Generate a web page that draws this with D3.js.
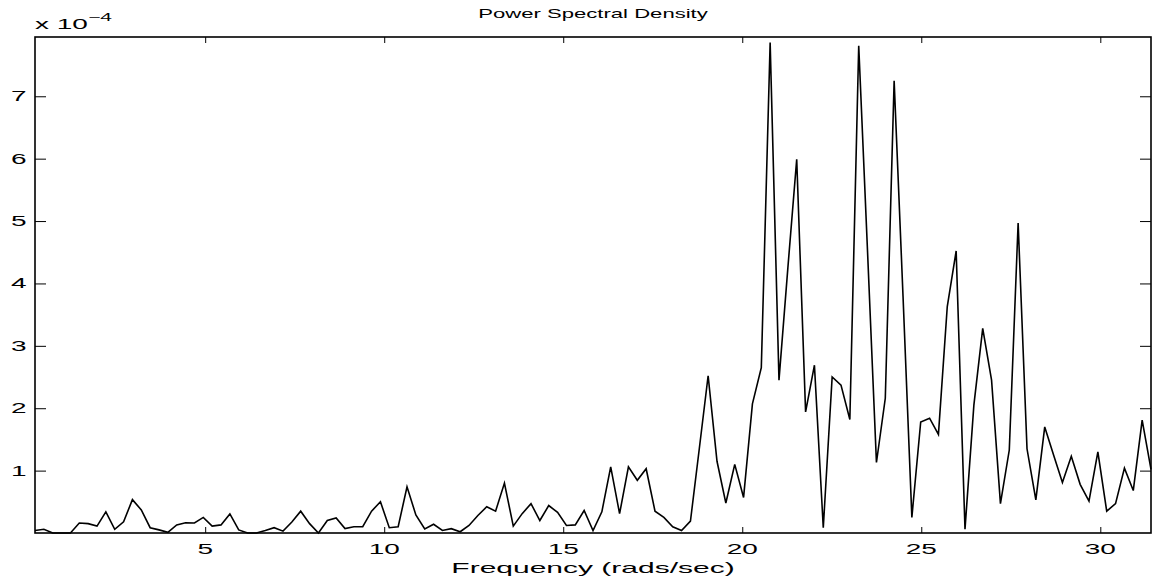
<!DOCTYPE html>
<html>
<head>
<meta charset="utf-8">
<script src="https://cdn.jsdelivr.net/npm/d3@7"></script>
<style>
  html, body { margin: 0; padding: 0; background: #fff; }
  svg { display: block; }
  text { font-family: "Liberation Sans", Arial, Helvetica, sans-serif; fill: #000; }
</style>
</head>
<body>
<svg id="chart" width="1155" height="584"></svg>
<script>
// Frequencies (rads/sec)
const frequency = [
  0.247, 0.495, 0.742, 0.989, 1.237, 1.484, 1.732, 1.979, 2.226, 2.474,
  2.721, 2.968, 3.216, 3.463, 3.711, 3.958, 4.205, 4.453, 4.700, 4.947,
  5.195, 5.442, 5.690, 5.937, 6.184, 6.432, 6.679, 6.926, 7.174, 7.421,
  7.668, 7.916, 8.163, 8.411, 8.658, 8.905, 9.153, 9.400, 9.647, 9.895,
  10.142, 10.390, 10.637, 10.884, 11.132, 11.379, 11.626, 11.874, 12.121, 12.368,
  12.616, 12.863, 13.111, 13.358, 13.605, 13.853, 14.100, 14.347, 14.595, 14.842,
  15.090, 15.337, 15.584, 15.832, 16.079, 16.326, 16.574, 16.821, 17.069, 17.316,
  17.563, 17.811, 18.058, 18.305, 18.553, 18.800, 19.047, 19.295, 19.542, 19.790,
  20.037, 20.284, 20.532, 20.779, 21.026, 21.274, 21.521, 21.769, 22.016, 22.263,
  22.511, 22.758, 23.005, 23.253, 23.500, 23.748, 23.995, 24.242, 24.490, 24.737,
  24.984, 25.232, 25.479, 25.726, 25.974, 26.221, 26.469, 26.716, 26.963, 27.211,
  27.458, 27.705, 27.953, 28.200, 28.448, 28.695, 28.942, 29.190, 29.437, 29.684,
  29.932, 30.179, 30.426, 30.674, 30.921, 31.169, 31.416
];
// Power spectral density, in units of 1e-4
const psd = [
  0.04, 0.06, 0.00, 0.00, 0.00, 0.16, 0.15, 0.11, 0.34, 0.06,
  0.18, 0.535, 0.37, 0.085, 0.05, 0.01, 0.13, 0.165, 0.16, 0.25,
  0.11, 0.13, 0.305, 0.05, 0.00, 0.00, 0.04, 0.085, 0.03, 0.175,
  0.35, 0.15, 0.00, 0.20, 0.24, 0.07, 0.10, 0.10, 0.35, 0.50,
  0.085, 0.10, 0.74, 0.29, 0.065, 0.14, 0.04, 0.07, 0.02, 0.12,
  0.28, 0.42, 0.35, 0.80, 0.11, 0.31, 0.47, 0.20, 0.44, 0.33,
  0.12, 0.13, 0.36, 0.04, 0.34, 1.06, 0.31, 1.06, 0.845, 1.03,
  0.35, 0.25, 0.10, 0.04, 0.19, 1.35, 2.52, 1.15, 0.48, 1.10,
  0.57, 2.07, 2.65, 7.86, 2.45, 4.25, 5.99, 1.94, 2.69, 0.085,
  2.50, 2.37, 1.82, 7.81, 4.50, 1.13, 2.16, 7.25, 3.80, 0.25,
  1.78, 1.84, 1.58, 3.63, 4.52, 0.06, 2.05, 3.28, 2.45, 0.47,
  1.33, 4.97, 1.35, 0.53, 1.70, 1.25, 0.81, 1.23, 0.78, 0.51,
  1.30, 0.35, 0.47, 1.04, 0.68, 1.81, 1.02
];
const xTicks = [5, 10, 15, 20, 25, 30];
const yTicks = [1, 2, 3, 4, 5, 6, 7];
const titleText = "Power Spectral Density";
const xLabelText = "Frequency (rads/sec)";
const yExponent = "\u22124";

const svg = d3.select("#chart");
const L = 35, R = 1151, T = 37, B = 533;
const SX = 2; // horizontal stretch of text

const x = d3.scaleLinear().domain([frequency[0], frequency[frequency.length - 1]]).range([L, R]);
const y = d3.scaleLinear().domain([0, 7.95]).range([B, T]);

// ticks via axes (inward)
function styleAxis(g) {
  g.select(".domain").remove();
  g.selectAll(".tick line").attr("stroke", "#000").attr("stroke-width", 1);
  g.selectAll(".tick text").remove();
}
svg.append("g").attr("transform", `translate(0,${B})`)
  .call(d3.axisBottom(x).tickValues(xTicks).tickSize(-6).tickFormat(""))
  .call(styleAxis);
svg.append("g").attr("transform", `translate(0,${T})`)
  .call(d3.axisTop(x).tickValues(xTicks).tickSize(-6).tickFormat(""))
  .call(styleAxis);
svg.append("g").attr("transform", `translate(${L},0)`)
  .call(d3.axisLeft(y).tickValues(yTicks).tickSize(-11).tickFormat(""))
  .call(styleAxis);
svg.append("g").attr("transform", `translate(${R},0)`)
  .call(d3.axisRight(y).tickValues(yTicks).tickSize(-11).tickFormat(""))
  .call(styleAxis);

// data line
const line = d3.line().x((d, i) => x(frequency[i])).y(d => y(d));
svg.append("path")
  .datum(psd)
  .attr("d", line)
  .attr("fill", "none")
  .attr("stroke", "#000")
  .attr("stroke-width", 1.6)
  .attr("stroke-linejoin", "miter");

// frame
svg.append("rect")
  .attr("x", L).attr("y", T)
  .attr("width", R - L).attr("height", B - T)
  .attr("fill", "none").attr("stroke", "#000").attr("stroke-width", 1.6);

// stretched text helper
function stretchedText(px, py, anchor, size, txt, sx) {
  return svg.append("text")
    .attr("transform", `translate(${px},${py}) scale(${sx || SX},1)`)
    .attr("text-anchor", anchor)
    .attr("font-size", size)
    .text(txt);
}

// x tick labels
xTicks.forEach(t => stretchedText(x(t), 554, "middle", 14, String(t)));
// y tick labels
yTicks.forEach(t => stretchedText(26.5, y(t) + 5, "end", 14, String(t)));

// exponent label
const ex = svg.append("text")
  .attr("transform", `translate(35,29) scale(${SX},1)`)
  .attr("font-size", 14);
ex.append("tspan").text("x 10");
ex.append("tspan").attr("font-size", 10.5).attr("dy", -8).text(yExponent);

// title and x label
stretchedText((L + R) / 2, 18, "middle", 13, titleText, 1.7);
stretchedText((L + R) / 2, 573, "middle", 15, xLabelText);
</script>
</body>
</html>
